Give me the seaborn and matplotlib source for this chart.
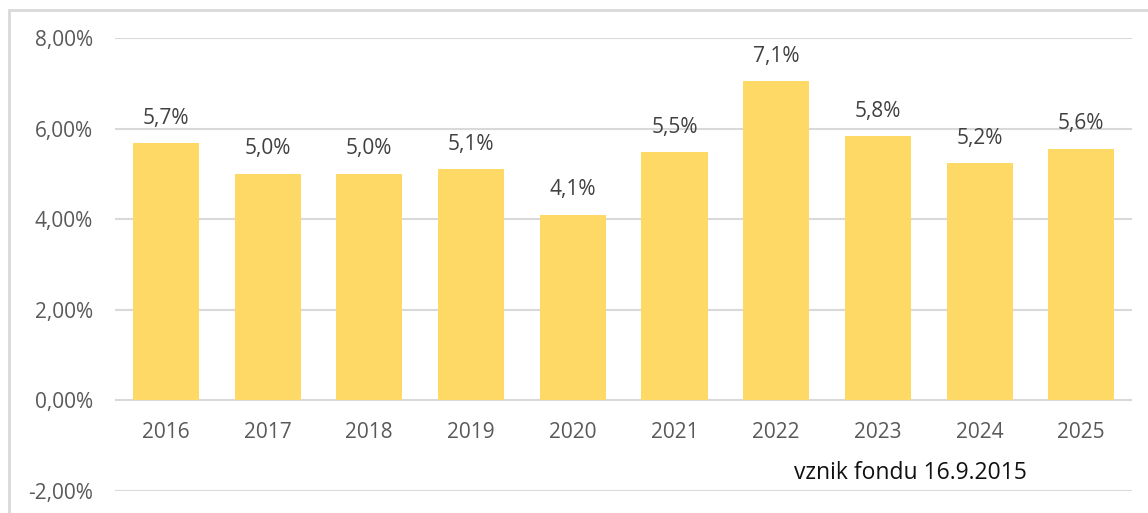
import matplotlib
matplotlib.use("Agg")
import matplotlib.pyplot as plt
import pandas as pd
import seaborn as sns
from matplotlib.patches import Rectangle

# -------------------------------
# Data
# -------------------------------
years = ['2016', '2017', '2018', '2019', '2020',
         '2021', '2022', '2023', '2024', '2025']
returns = [5.68, 5.0, 5.0, 5.1, 4.1, 5.48, 7.05, 5.83, 5.23, 5.56]
value_labels = ['5,7%', '5,0%', '5,0%', '5,1%', '4,1%',
                '5,5%', '7,1%', '5,8%', '5,2%', '5,6%']
y_ticks = [-2, 0, 2, 4, 6, 8]
y_tick_labels = ['-2,00%', '0,00%', '2,00%', '4,00%', '6,00%', '8,00%']
note = 'vznik fondu 16.9.2015'

df = pd.DataFrame({'Year': years, 'Return': returns})

# -------------------------------
# Plot
# -------------------------------
sns.set_style('white')
plt.rcParams['font.family'] = ['Open Sans', 'DejaVu Sans']

fig = plt.figure(figsize=(11.48, 5.13), dpi=100)
ax = fig.add_axes([0.1002, 0.0429, 0.886, 0.883])

# light frame around the whole chart
fig.patches.append(Rectangle((9 / 1148, -0.1), 1.2, 1 - 10 / 513 + 0.1,
                             transform=fig.transFigure, fill=False,
                             edgecolor='#D9D9D9', lw=2, zorder=0))

for t in y_ticks:
    ax.axhline(t, color='#D9D9D9', lw=1.5, zorder=0)

sns.barplot(data=df, x='Year', y='Return', color='#FFD966',
            saturation=1, width=0.65, ax=ax, zorder=2, edgecolor='none')

ax.set_ylim(-2, 8)
ax.set_xlim(-0.5, len(years) - 0.5)
ax.set_yticks(y_ticks)
ax.set_yticklabels(y_tick_labels, fontsize=15, color='#595959')
ax.tick_params(axis='y', length=0, pad=16)
ax.set_xticks([])
ax.set_xlabel('')
ax.set_ylabel('')
for s in ax.spines.values():
    s.set_visible(False)

# year labels just under the zero line
for i, yr in enumerate(years):
    ax.annotate(yr, (i, 0), xytext=(0, -23), textcoords='offset points',
                ha='center', va='center', fontsize=15, color='#595959')

# value labels above bars
for i, (v, lab) in enumerate(zip(returns, value_labels)):
    ax.annotate(lab, (i, v), xytext=(0, 18), textcoords='offset points',
                ha='center', va='center', fontsize=15, color='#404040')

ax.text(7.32, -1.6, note, ha='center', va='center', fontsize=16.5,
        color='#111111')

fig.savefig('out.png', dpi=100)
